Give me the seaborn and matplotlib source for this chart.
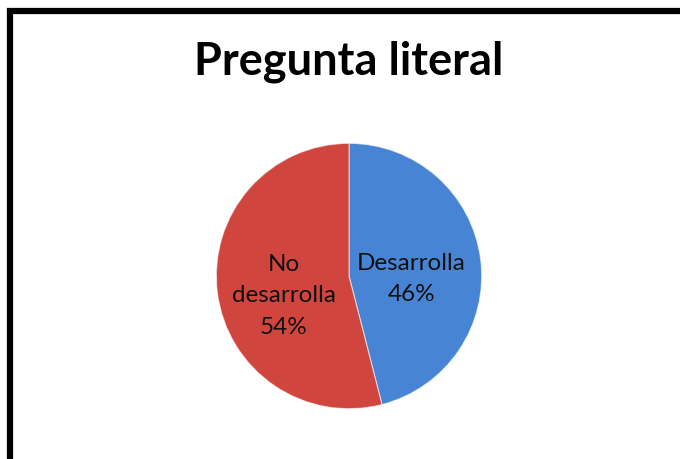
import matplotlib
matplotlib.use("Agg")
import matplotlib.pyplot as plt
import seaborn as sns
from matplotlib.patches import Rectangle

sns.set_theme(style="white")
plt.rcParams['font.family'] = ['Lato', 'DejaVu Sans']

title = "Pregunta literal"
categories = ["Desarrolla", "No\ndesarrolla"]
values = [46, 54]
colors = ["#4785d4", "#d0463f"]

fig = plt.figure(figsize=(6.8, 4.59), dpi=100)
fig.patch.set_facecolor("white")

# outer border (chart area frame)
fig.patches.append(Rectangle((10/680, -0.1), 1.2, 1 - 11.5/459 + 0.1,
                             transform=fig.transFigure, fill=False,
                             edgecolor="black", linewidth=4.5))

fig.text(349/680, 1 - 62/459, title, ha="center", va="center",
         fontsize=32.5, fontweight="bold", color="black")

ax = fig.add_axes([(349-134)/680, 1 - (276+134)/459, 268/680, 268/459])
wedges, texts = ax.pie(values, colors=colors, startangle=90, counterclock=False,
                       radius=1, wedgeprops=dict(edgecolor=(1, 1, 1, 0.6), linewidth=0.8))
ax.set_xlim(-1.01, 1.01)
ax.set_ylim(-1.01, 1.01)
ax.set_aspect("equal")
ax.axis("off")

label_pos = [(0.47, -0.025), (-0.49, -0.15)]
for cat, v, (x, y) in zip(categories, values, label_pos):
    ax.text(x, y, f"{cat}\n{v}%", ha="center", va="center", fontsize=17.5,
            color="#111111", linespacing=1.6)

fig.savefig("out.png", dpi=100, facecolor="white")
